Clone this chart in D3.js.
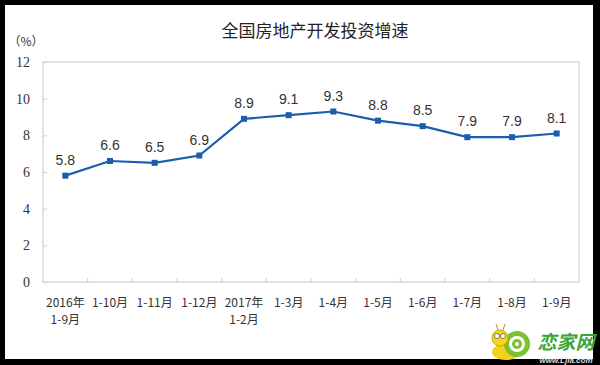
<!DOCTYPE html>
<html><head><meta charset="utf-8">
<script src="https://cdn.jsdelivr.net/npm/d3@7"></script>
<style>html,body{margin:0;padding:0;background:#000;}svg{display:block;}</style>
</head><body>
<svg id="c" width="600" height="365"></svg>
<script>
const categories = [["2016年","1-9月"],["1-10月"],["1-11月"],["1-12月"],["2017年","1-2月"],["1-3月"],["1-4月"],["1-5月"],["1-6月"],["1-7月"],["1-8月"],["1-9月"]];
const values = [5.8, 6.6, 6.5, 6.9, 8.9, 9.1, 9.3, 8.8, 8.5, 7.9, 7.9, 8.1];
const yTicks = [0, 2, 4, 6, 8, 10, 12];
const title = "全国房地产开发投资增速";
const unit = "（%）";

const svg = d3.select("#c");
svg.append("rect").attr("x",0).attr("y",0).attr("width",600).attr("height",365).attr("fill","#000");
svg.append("rect").attr("x",5).attr("y",5).attr("width",588).attr("height",354).attr("fill","#fff");

const L = 43, R = 579, T = 62, B = 282;
const x = d3.scaleBand().domain(d3.range(categories.length)).range([L, R]);
const y = d3.scaleLinear().domain([0, 12]).range([B, T]);
const grey = "#cfcfcf";

svg.append("text").attr("x",315).attr("y",37).attr("text-anchor","middle")
  .attr("font-family","'Noto Sans CJK SC'").attr("font-size",17).attr("fill","#222").text(title);
svg.append("text").attr("x",26).attr("y",46).attr("text-anchor","middle")
  .attr("font-family","'Noto Sans CJK SC'").attr("font-size",12).attr("fill","#333").text(unit);

// box
svg.append("rect").attr("x",L).attr("y",T).attr("width",R-L).attr("height",B-T)
  .attr("fill","none").attr("stroke",grey).attr("stroke-width",1.2);

// y axis
const yAxis = d3.axisLeft(y).tickValues(yTicks).tickSize(-4).tickPadding(13).tickFormat(d3.format("d"));
const gy = svg.append("g").attr("transform",`translate(${L},0)`).call(yAxis);
gy.select(".domain").remove();
gy.selectAll(".tick line").attr("stroke",grey);
gy.selectAll(".tick text").attr("font-family","'Liberation Serif'").attr("font-size",14).attr("fill","#333");

// x axis ticks (boundaries)
const xAxis = d3.axisBottom(x).tickSize(0).tickFormat("");
const gx = svg.append("g").attr("transform",`translate(0,${B})`).call(xAxis);
gx.select(".domain").remove();
gx.selectAll(".tick").remove();
gx.selectAll("line.b").data(d3.range(1, categories.length)).join("line")
  .attr("x1", i => x(i)).attr("x2", i => x(i)).attr("y1", 0).attr("y2", -4)
  .attr("stroke", grey);
const lbl = gx.selectAll("text.cat").data(categories).join("text")
  .attr("class","cat").attr("text-anchor","middle")
  .attr("font-family","'Noto Sans CJK SC'").attr("font-size",12).attr("fill","#333");
lbl.each(function(d, i){
  const t = d3.select(this);
  d.forEach((s, k) => t.append("tspan").attr("x", x(i) + x.bandwidth()/2).attr("y", 25 + k*17).text(s));
});

// line
const cx = i => x(i) + x.bandwidth()/2;
const line = d3.line().x((d,i) => cx(i)).y(d => y(d));
const blue = "#1a5fae";
svg.append("path").datum(values).attr("d", line).attr("fill","none").attr("stroke",blue).attr("stroke-width",2.2);
svg.selectAll("rect.m").data(values).join("rect").attr("class","m")
  .attr("x",(d,i)=>cx(i)-3).attr("y",d=>y(d)-3).attr("width",6).attr("height",6).attr("fill",blue);
svg.selectAll("text.v").data(values).join("text").attr("class","v")
  .attr("x",(d,i)=>cx(i)).attr("y",d=>y(d)-11).attr("text-anchor","middle")
  .attr("font-family","'Liberation Sans'").attr("font-size",14).attr("fill","#333").text(d=>d3.format(".1f")(d));

// watermark
const wm = svg.append("g");
wm.append("ellipse").attr("cx",506).attr("cy",352).attr("rx",14).attr("ry",8).attr("fill","#f2d21c");
wm.append("circle").attr("cx",517).attr("cy",344).attr("r",13).attr("fill","#7cc12e");
wm.append("circle").attr("cx",517).attr("cy",344).attr("r",8).attr("fill","#fff");
wm.append("circle").attr("cx",517).attr("cy",344).attr("r",5).attr("fill","#7cc12e");
wm.append("circle").attr("cx",517).attr("cy",344).attr("r",2).attr("fill","#fff");
wm.append("ellipse").attr("cx",500).attr("cy",338).attr("rx",8).attr("ry",8).attr("fill","#f5d81e").attr("stroke","#b89a00").attr("stroke-width",0.8);
wm.append("circle").attr("cx",497).attr("cy",336).attr("r",2.5).attr("fill","#fff").attr("stroke","#333").attr("stroke-width",0.6);
wm.append("circle").attr("cx",503).attr("cy",336).attr("r",2.5).attr("fill","#fff").attr("stroke","#333").attr("stroke-width",0.6);
wm.append("line").attr("x1",498).attr("y1",330).attr("x2",496).attr("y2",324).attr("stroke","#b89a00");
wm.append("line").attr("x1",503).attr("y1",330).attr("x2",505).attr("y2",324).attr("stroke","#b89a00");
wm.append("text").attr("x",566).attr("y",349).attr("text-anchor","middle")
  .attr("font-family","'Noto Sans CJK SC'").attr("font-weight","bold").attr("font-style","italic")
  .attr("font-size",19).attr("fill","#3aa53a").text("恋家网");
wm.append("text").attr("x",566).attr("y",363).attr("text-anchor","middle")
  .attr("font-family","'Liberation Sans'").attr("font-weight","bold").attr("font-style","italic")
  .attr("font-size",8).attr("fill","#ddd").text("www.Ljia.com");
</script>
</body></html>
